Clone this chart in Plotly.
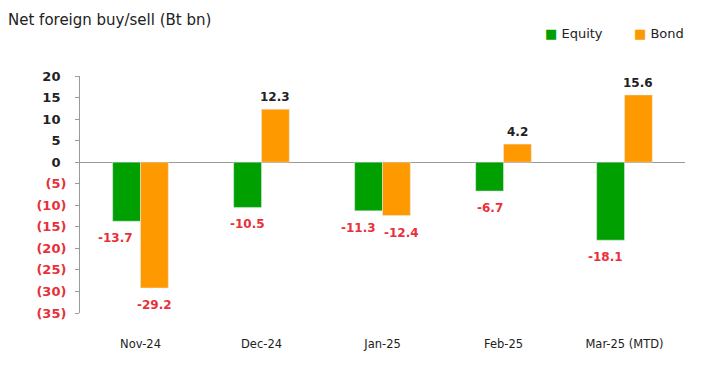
import plotly.graph_objects as go

categories = ["Nov-24", "Dec-24", "Jan-25", "Feb-25", "Mar-25 (MTD)"]
equity = [-13.7, -10.5, -11.3, -6.7, -18.1]
bond = [-29.2, 12.3, -12.4, 4.2, 15.6]
tick_vals = [20, 15, 10, 5, 0, -5, -10, -15, -20, -25, -30, -35]

# label nudges (pixels) as in the reference
equity_label_dx = [-11, 0, -10, 0, -5]
bond_label_dx = [0, 0, 5, 0, 0]

RED = "#e8303a"
GREEN = "#00a000"
ORANGE = "#ff9900"
TXT = "#222222"

def tick_label(v):
    if v < 0:
        return f'<span style="color:{RED}">({abs(v)})</span>'
    return f'{v}<span style="color:white">)</span>'

BARGAP = 0.54
half = (1 - BARGAP) / 4  # centre offset of each bar in a 2-bar group

fig = go.Figure()
for name, vals, col in [("Equity", equity, GREEN), ("Bond", bond, ORANGE)]:
    fig.add_trace(go.Bar(
        name=name, x=categories, y=vals, marker_color=col,
        cliponaxis=False, showlegend=False,
    ))

for vals, sign, dxs in [(equity, -1, equity_label_dx), (bond, 1, bond_label_dx)]:
    for i, (v, dx) in enumerate(zip(vals, dxs)):
        fig.add_annotation(
            x=i + sign * half, y=v, xref="x", yref="y",
            text=f"{v:.1f}", showarrow=False,
            xanchor="center", yanchor="middle",
            xshift=dx, yshift=(12 if v >= 0 else -17),
            font=dict(size=12, family="DejaVu Sans", weight="bold",
                      color=(TXT if v >= 0 else RED)),
        )

# page body has an 8px margin, so the figure is 8px smaller
W, H = 693, 374
fig.update_layout(
    width=W, height=H,
    margin=dict(l=72, r=16, t=68, b=69, autoexpand=False),
    paper_bgcolor="white", plot_bgcolor="white",
    barmode="group", bargap=BARGAP, bargroupgap=0.0,
    font=dict(family="DejaVu Sans", size=11, color=TXT),
    title=dict(text="Net foreign buy/sell (Bt bn)", x=0, xref="container", xanchor="left",
               y=1 - 12 / H, yanchor="middle", font=dict(size=15, color=TXT),
               pad=dict(l=0, r=0, t=0, b=0), automargin=False),
    showlegend=False,
)
# legend drawn as text annotations
legend_items = [("Equity", GREEN, 535), ("Bond", ORANGE, 624)]
for name, col, xpix in legend_items:
    fig.add_annotation(
        text=f'<span style="color:{col}">■</span> {name}',
        xref="paper", yref="paper", x=(xpix - 72) / (W - 72 - 16), xanchor="left",
        y=1 + (68 - 25) / (H - 68 - 69), yanchor="middle",
        showarrow=False, font=dict(size=13, color=TXT, family="DejaVu Sans"),
    )
fig.update_yaxes(
    range=[-35, 20], tickvals=tick_vals, ticktext=[tick_label(v) for v in tick_vals],
    showgrid=False, zeroline=True, zerolinecolor="#9a9a9a", zerolinewidth=1,
    showline=True, linecolor="#9a9a9a", linewidth=1,
    ticks="outside", ticklen=4, tickcolor="#9a9a9a", automargin=False,
    ticklabelstandoff=6,
    tickfont=dict(size=13, family="DejaVu Sans", weight="bold", color=TXT),
)
fig.update_xaxes(
    showgrid=False, showline=False, ticks="", automargin=False,
    ticklabelstandoff=22,
    tickfont=dict(size=11.5, family="DejaVu Sans", color=TXT),
)

fig.write_html("out.html")
